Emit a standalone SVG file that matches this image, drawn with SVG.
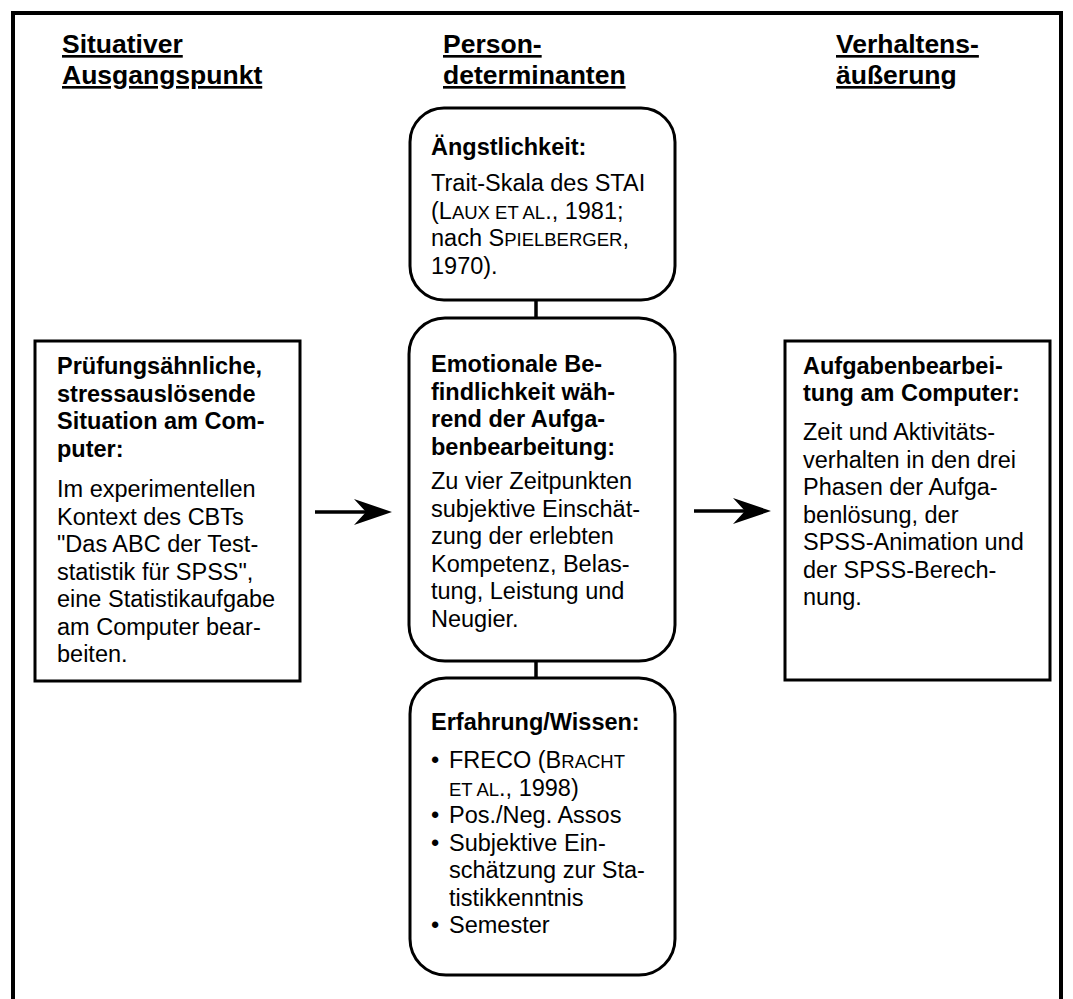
<svg xmlns="http://www.w3.org/2000/svg" width="1073" height="999" viewBox="0 0 1073 999">
  <style>
    .frame { fill: none; stroke: #000; stroke-width: 4; }
    .box { fill: #fff; stroke: #000; stroke-width: 3; }
    .link { stroke: #000; stroke-width: 3.5; fill: none; }
    text { font-family: "Liberation Sans", Arial, sans-serif; fill: #000; }
    .head { font-size: 26.5px; font-weight: bold; text-decoration: underline; }
    .title { font-size: 23.5px; font-weight: bold; }
    .body { font-size: 23.5px; }
    .sc { font-size: 18.5px; }
  </style>
  <defs>
    <marker id="arrow" viewBox="-28 -14 42 28" refX="0" refY="0" markerWidth="42" markerHeight="28" markerUnits="userSpaceOnUse" orient="auto">
      <path d="M12,0 L-26,-13 L-14,0 L-26,13 Z" fill="#000"/>
    </marker>
  </defs>

  <rect x="0" y="0" width="1073" height="999" fill="#fff"/>
  <!-- outer frame, open at the bottom edge of the page -->
  <rect class="frame" x="13" y="13" width="1048" height="1010"/>

  <!-- column headings -->
  <g id="heading-situation">
    <text class="head" x="62" y="53">Situativer</text>
    <text class="head" x="62" y="84">Ausgangspunkt</text>
  </g>
  <g id="heading-person">
    <text class="head" x="443" y="53">Person-</text>
    <text class="head" x="443" y="84">determinanten</text>
  </g>
  <g id="heading-behaviour">
    <text class="head" x="836" y="53">Verhaltens-</text>
    <text class="head" x="836" y="84">äußerung</text>
  </g>

  <!-- connectors -->
  <g id="connectors">
    <line class="link" x1="536" y1="300" x2="536" y2="318"/>
    <line class="link" x1="536" y1="661" x2="536" y2="678"/>
    <line class="link" x1="315" y1="512" x2="380" y2="512" marker-end="url(#arrow)"/>
    <line class="link" x1="694" y1="511" x2="759" y2="511" marker-end="url(#arrow)"/>
  </g>

  <!-- situation -->
  <g id="node-situation">
    <rect class="box" x="35" y="341" width="265" height="340"/>
    <text class="title" x="57">
      <tspan x="57" y="374">Prüfungsähnliche,</tspan>
      <tspan x="57" y="401.5">stressauslösende</tspan>
      <tspan x="57" y="429">Situation am Com-</tspan>
      <tspan x="57" y="456.5">puter:</tspan>
    </text>
    <text class="body">
      <tspan x="57" y="497">Im experimentellen</tspan>
      <tspan x="57" y="524.5">Kontext des CBTs</tspan>
      <tspan x="57" y="552">"Das ABC der Test-</tspan>
      <tspan x="57" y="579.5">statistik für SPSS",</tspan>
      <tspan x="57" y="607">eine Statistikaufgabe</tspan>
      <tspan x="57" y="634.5">am Computer bear-</tspan>
      <tspan x="57" y="662">beiten.</tspan>
    </text>
  </g>

  <!-- trait anxiety -->
  <g id="node-anxiety">
    <rect class="box" x="410" y="108" width="265" height="192" rx="34" ry="34"/>
    <text class="title" x="431" y="155">Ängstlichkeit:</text>
    <text class="body">
      <tspan x="431" y="191">Trait-Skala des STAI</tspan>
      <tspan x="431" y="218.5">(L<tspan class="sc">AUX ET AL</tspan>., 1981;</tspan>
      <tspan x="431" y="246">nach S<tspan class="sc">PIELBERGER</tspan>,</tspan>
      <tspan x="431" y="273.5">1970).</tspan>
    </text>
  </g>

  <!-- emotional state -->
  <g id="node-emotion">
    <rect class="box" x="409" y="318" width="266" height="343" rx="36" ry="36"/>
    <text class="title">
      <tspan x="431" y="372">Emotionale Be-</tspan>
      <tspan x="431" y="399.5">findlichkeit wäh-</tspan>
      <tspan x="431" y="427">rend der Aufga-</tspan>
      <tspan x="431" y="454.5">benbearbeitung:</tspan>
    </text>
    <text class="body">
      <tspan x="431" y="489">Zu vier Zeitpunkten</tspan>
      <tspan x="431" y="516.5">subjektive Einschät-</tspan>
      <tspan x="431" y="544">zung der erlebten</tspan>
      <tspan x="431" y="571.5">Kompetenz, Belas-</tspan>
      <tspan x="431" y="599">tung, Leistung und</tspan>
      <tspan x="431" y="626.5">Neugier.</tspan>
    </text>
  </g>

  <!-- experience / knowledge -->
  <g id="node-experience">
    <rect class="box" x="410" y="678" width="265" height="297" rx="36" ry="36"/>
    <text class="title" x="431" y="730">Erfahrung/Wissen:</text>
    <text class="body">
      <tspan x="431" y="768">•</tspan>
      <tspan x="449" y="768">FRECO (B<tspan class="sc">RACHT</tspan></tspan>
      <tspan x="449" y="795.5"><tspan class="sc">ET AL</tspan>., 1998)</tspan>
      <tspan x="431" y="823">•</tspan>
      <tspan x="449" y="823">Pos./Neg. Assos</tspan>
      <tspan x="431" y="850.5">•</tspan>
      <tspan x="449" y="850.5">Subjektive Ein-</tspan>
      <tspan x="449" y="878">schätzung zur Sta-</tspan>
      <tspan x="449" y="905.5">tistikkenntnis</tspan>
      <tspan x="431" y="933">•</tspan>
      <tspan x="449" y="933">Semester</tspan>
    </text>
  </g>

  <!-- task behaviour -->
  <g id="node-behaviour">
    <rect class="box" x="785" y="341" width="265" height="339"/>
    <text class="title">
      <tspan x="803" y="373.5">Aufgabenbearbei-</tspan>
      <tspan x="803" y="401">tung am Computer:</tspan>
    </text>
    <text class="body">
      <tspan x="803" y="440">Zeit und Aktivitäts-</tspan>
      <tspan x="803" y="467.5">verhalten in den drei</tspan>
      <tspan x="803" y="495">Phasen der Aufga-</tspan>
      <tspan x="803" y="522.5">benlösung, der</tspan>
      <tspan x="803" y="550">SPSS-Animation und</tspan>
      <tspan x="803" y="577.5">der SPSS-Berech-</tspan>
      <tspan x="803" y="605">nung.</tspan>
    </text>
  </g>
</svg>
